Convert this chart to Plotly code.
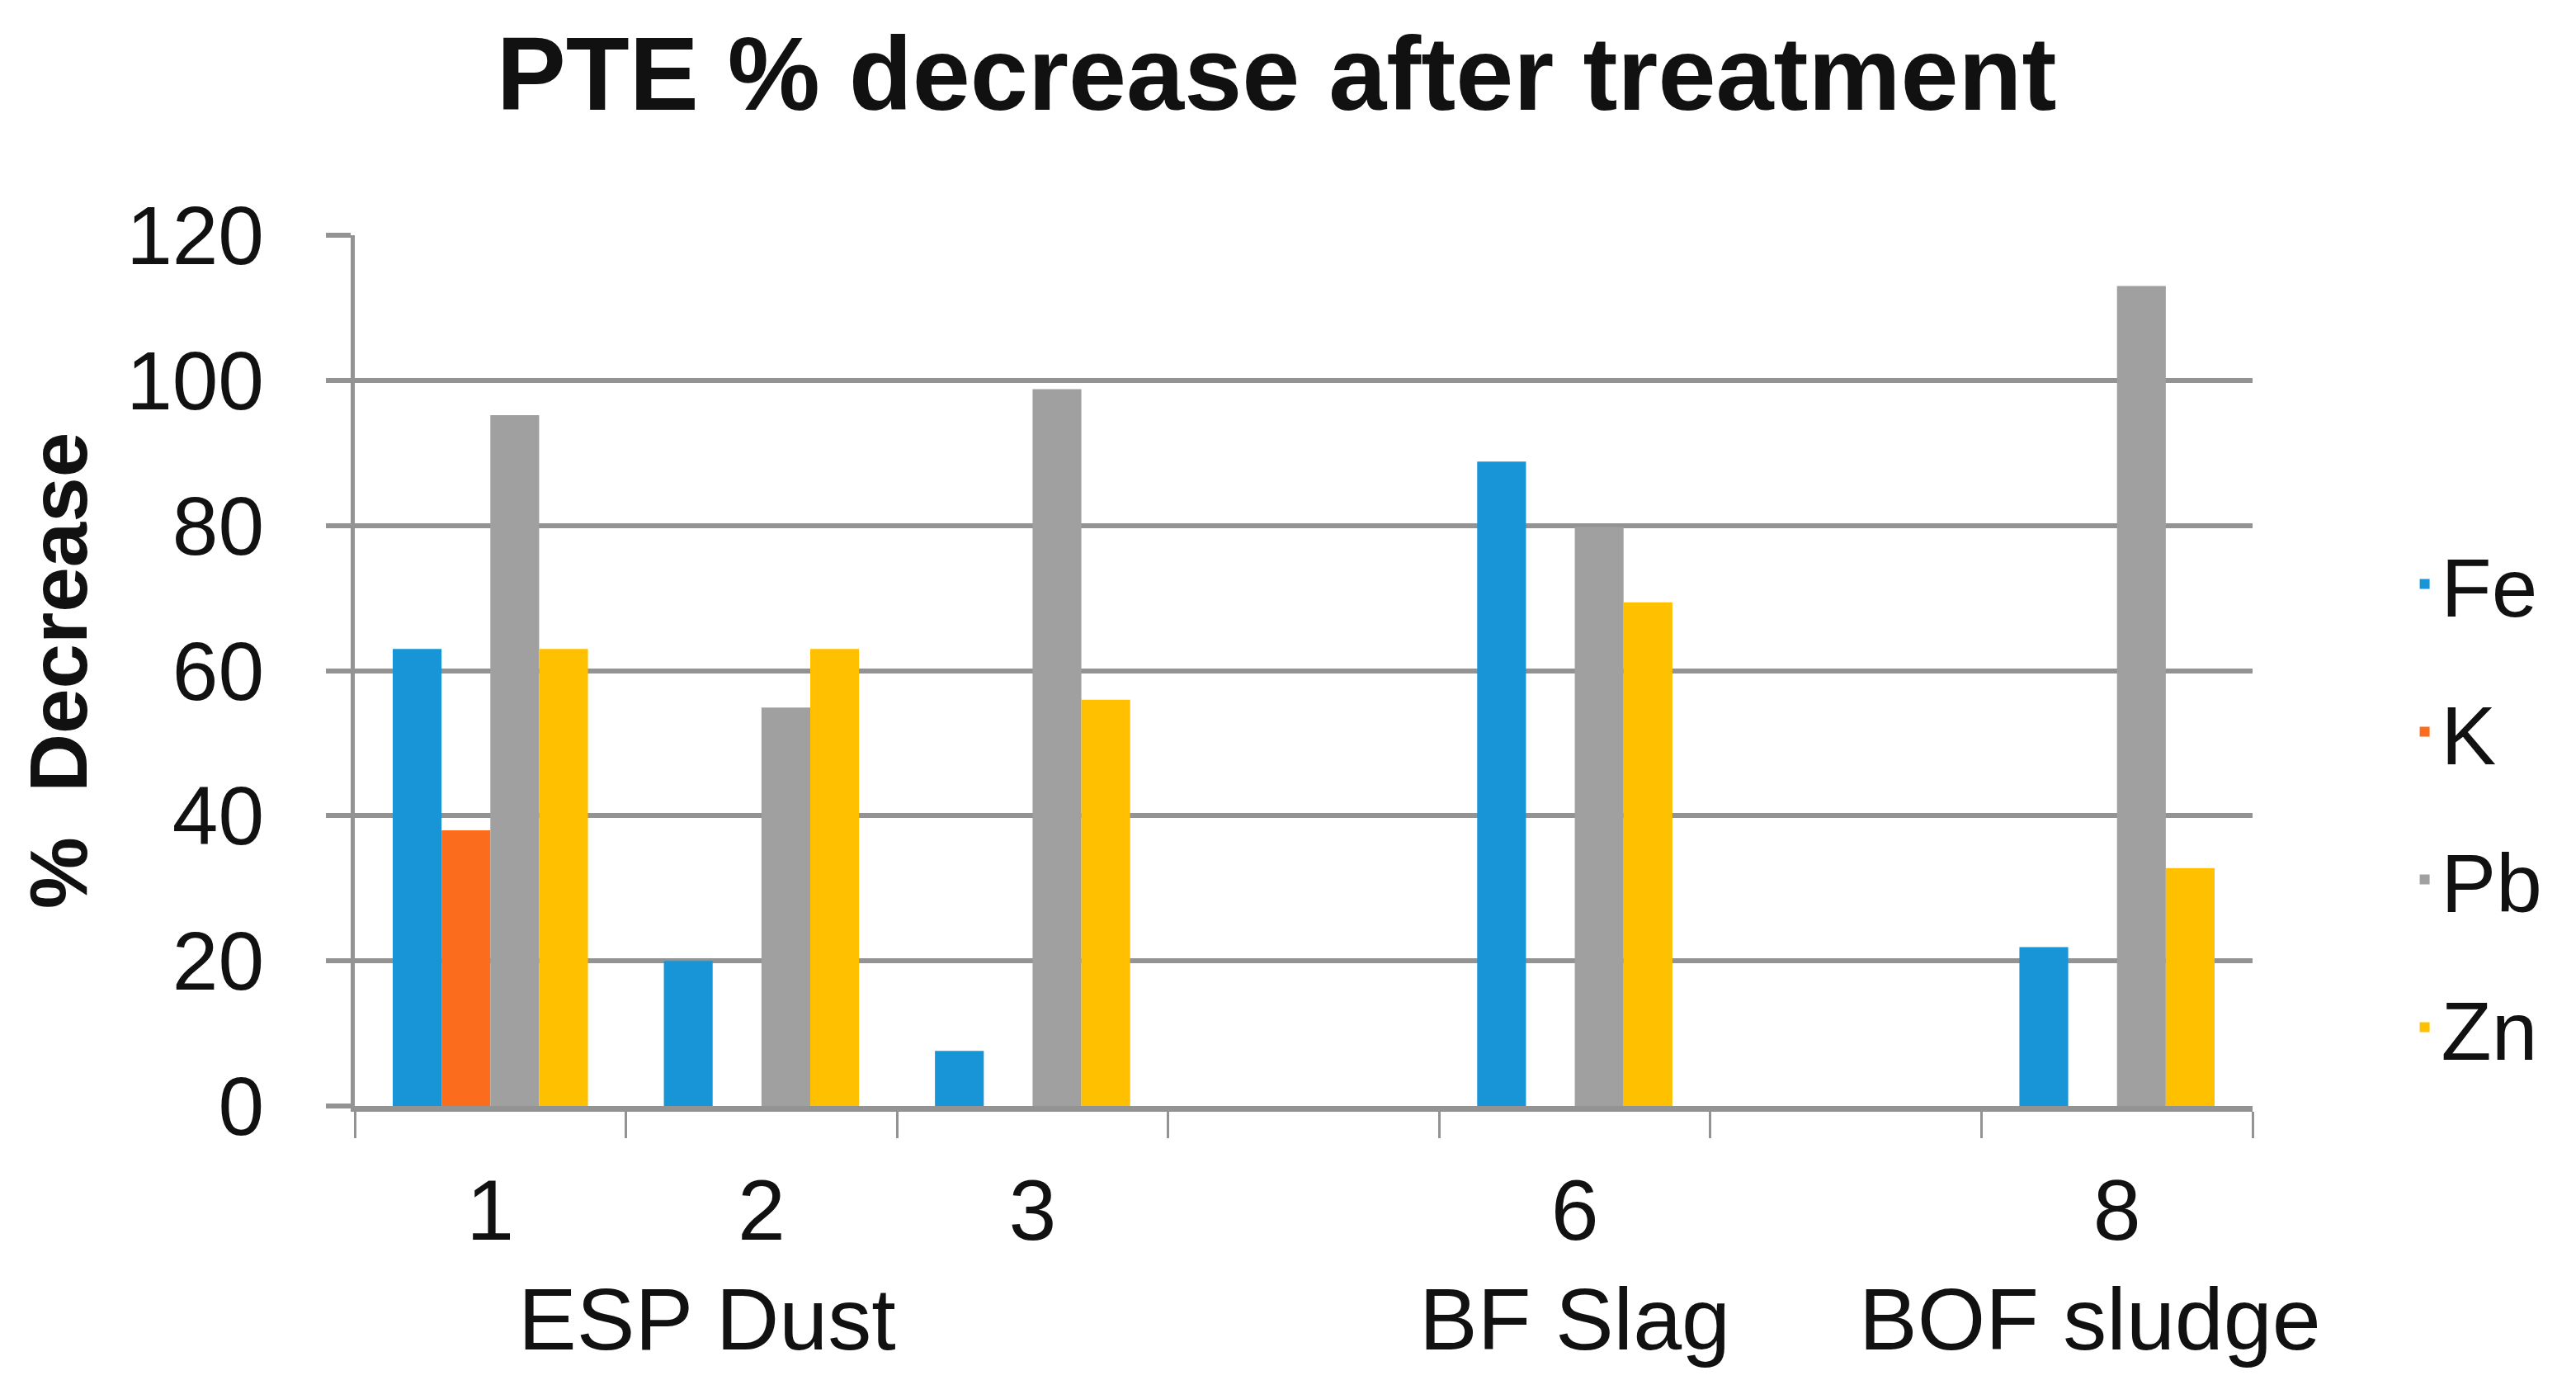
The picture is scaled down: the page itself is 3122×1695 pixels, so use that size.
import plotly.graph_objects as go

# ---- data ----
categories = ["1", "2", "3", " ", "6", "  ", "8"]   # axis slots (two blank slots)
samples = ["1", "2", "3", "6", "8"]
fe = [63, 20, 7.6, 88.8, 21.9]
k = [38, 0, 0, 0, 0]
pb = [95.2, 54.9, 98.8, 79.8, 113]
zn = [63, 63, 56, 69.4, 32.8]
series_names = ["Fe", "K", "Pb", "Zn"]
series_values = [fe, k, pb, zn]
series_colors = ["#1795d6", "#fb6d1c", "#a0a0a0", "#ffc000"]
group_labels = ["ESP Dust", "BF Slag", "BOF sludge"]
group_pos = [0.8, 4.0, 5.9]
y_ticks = [0, 20, 40, 60, 80, 100, 120]

FONT = "Liberation Sans, Arial, sans-serif"
GRID = "#939393"

fig = go.Figure()
for name, vals, col in zip(series_names, series_values, series_colors):
    fig.add_trace(go.Bar(
        name=name, x=samples, y=vals, marker_color=col,
        marker_line_width=0, legendgroup=name,
    ))

for lab, pos in zip(group_labels, group_pos):
    fig.add_annotation(
        text=lab, x=pos, xref="x", y=-0.245, yref="paper",
        xanchor="center", yanchor="middle", showarrow=False,
        font=dict(family=FONT, size=106, color="#111111"),
    )

fig.update_layout(
    width=3122, height=1695,
    paper_bgcolor="white", plot_bgcolor="white",
    margin=dict(l=422, r=400, t=277, b=363),
    barmode="group", bargap=0.28, bargroupgap=0,
    title=dict(
        text="<b>PTE % decrease after treatment</b>",
        x=0.493, xref="container", xanchor="center",
        y=0.952, yref="container", yanchor="middle",
        font=dict(family=FONT, size=126, color="#111111"),
    ),
    legend=dict(
        x=1.082, xanchor="left", y=0.345, yanchor="middle",
        font=dict(family=FONT, size=100, color="#111111"),
        tracegroupgap=46, traceorder="grouped",
        bgcolor="rgba(0,0,0,0)",
    ),
    xaxis=dict(
        type="category", categoryorder="array", categoryarray=categories,
        range=[-0.5, 6.5],
        tickson="boundaries", ticks="outside", ticklen=32, tickwidth=3,
        tickcolor=GRID, showline=True, linecolor=GRID, linewidth=7,
        showgrid=False, ticklabelstandoff=30,
        tickfont=dict(family=FONT, size=104, color="#111111"),
    ),
    yaxis=dict(
        range=[0, 120], tickvals=y_ticks,
        showgrid=True, gridcolor=GRID, gridwidth=6,
        zeroline=False,
        showline=True, linecolor=GRID, linewidth=5,
        ticks="outside", ticklen=30, tickwidth=6, tickcolor=GRID,
        ticklabelstandoff=55,
        tickfont=dict(family=FONT, size=100, color="#111111"),
        title=dict(text="<b>%  Decrease</b>", standoff=16,
                   font=dict(family=FONT, size=98, color="#111111")),
    ),
)

fig.write_html("out.html")
